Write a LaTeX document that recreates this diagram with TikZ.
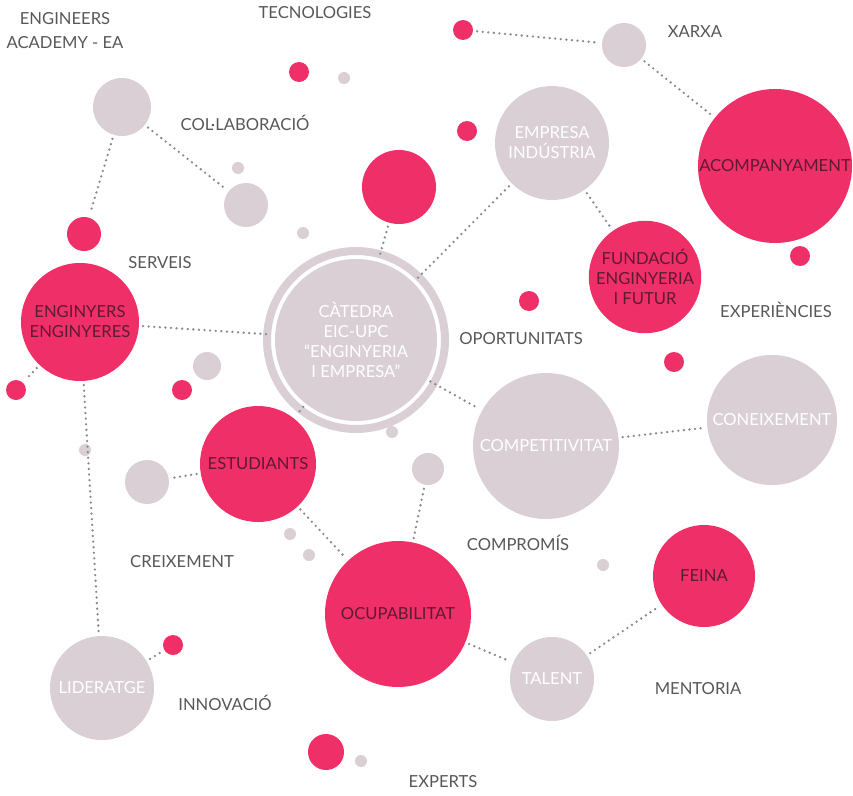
\documentclass[tikz,border=0pt]{standalone}
\usepackage{fontspec}
\setmainfont{Lato}
\definecolor{eicpink}{HTML}{EF2F67}
\definecolor{eicgrey}{HTML}{DACFD4}
\definecolor{eicwine}{HTML}{5E1A33}
\definecolor{eictext}{HTML}{575757}
\definecolor{eicdots}{HTML}{8A8A8A}

\begin{document}
\begin{tikzpicture}[x=1pt,y=-1pt,
                bubble/.style={circle,inner sep=0pt,align=center,
                               font=\fontsize{16.6}{20}\selectfont},
                hot/.style={bubble,fill=eicpink,text=eicwine},
                cool/.style={bubble,fill=eicgrey,text=white},
                pinkdot/.style={circle,inner sep=0pt,fill=eicpink,minimum size=#1},
                greydot/.style={circle,inner sep=0pt,fill=eicgrey,minimum size=#1},
                word/.style={text=eictext,align=center,
                             font=\fontsize{16.6}{24}\selectfont},
                link/.style={draw=eicdots,line width=2.6pt,line cap=round,
                             dash pattern=on 0pt off 5.6pt,
                             shorten <=4pt,shorten >=4pt}]
                \useasboundingbox (0,0) rectangle (853,795);

                % big bubbles
                \node[cool, minimum size=162pt] (catedra) at (356,340) {CÀTEDRA\\EIC-UPC\\“ENGINYERIA\\I EMPRESA”};
                \draw[eicgrey, line width=8pt] (catedra.center) circle[radius=89pt];
                \node[cool, minimum size=114pt] (empresa) at (552,143) {EMPRESA\\INDÚSTRIA};
                \node[cool, minimum size=146pt] (compet) at (546,446) {COMPETITIVITAT};
                \node[cool, minimum size=130pt] (conex) at (772,420) {CONEIXEMENT};
                \node[cool, minimum size=104pt] (lider) at (102,688) {LIDERATGE};
                \node[cool, minimum size=84pt] (talent) at (552,679) {TALENT};
                \node[hot, minimum size=118pt] (engy) at (80,322) {ENGINYERS\\ENGINYERES};
                \node[hot, minimum size=154pt] (acomp) at (775,166) {ACOMPANYAMENT};
                \node[hot, minimum size=74pt] (spark) at (399,187) {};
                \node[hot, minimum size=112pt] (fund) at (645,277) {FUNDACIÓ\\ENGINYERIA\\I FUTUR};
                \node[hot, minimum size=116pt] (estud) at (258,464) {ESTUDIANTS};
                \node[hot, minimum size=146pt] (ocup) at (398,614) {OCUPABILITAT};
                \node[hot, minimum size=102pt] (feina) at (704,576) {FEINA};

                % small bubbles
                \node[greydot=58pt] (academy) at (122,107) {};
                \node[greydot=44pt] (collab) at (246,205) {};
                \node[greydot=44pt] (xarxa) at (624,45) {};
                \node[greydot=44pt] (creix) at (147,482) {};
                \node[greydot=28pt] (serv) at (207,366) {};
                \node[greydot=32pt] (compr) at (428,469) {};
                \node[greydot=12pt] (g1) at (344,78) {};
                \node[greydot=12pt] (g2) at (238,168) {};
                \node[greydot=12pt] (g3) at (303,233) {};
                \node[greydot=12pt] (g4) at (85,450) {};
                \node[greydot=12pt] (g5) at (392,432) {};
                \node[greydot=12pt] (g6) at (290,534) {};
                \node[greydot=12pt] (g7) at (309,555) {};
                \node[greydot=12pt] (g8) at (603,565) {};
                \node[greydot=12pt] (g9) at (361,761) {};
                \node[pinkdot=20pt] (p1) at (299,72) {};
                \node[pinkdot=20pt] (xdot) at (463,30) {};
                \node[pinkdot=20pt] (p2) at (467,131) {};
                \node[pinkdot=34pt] (sdot) at (84,234) {};
                \node[pinkdot=20pt] (p3) at (529,301) {};
                \node[pinkdot=20pt] (p4) at (674,362) {};
                \node[pinkdot=20pt] (p5) at (800,256) {};
                \node[pinkdot=20pt] (ldot) at (16,390) {};
                \node[pinkdot=20pt] (p6) at (182,390) {};
                \node[pinkdot=20pt] (idot) at (173,645) {};
                \node[pinkdot=36pt] (p7) at (326,752) {};

                % loose words
                \node[word] (academia) at (65,31) {ENGINEERS\\ACADEMY - EA};
                \node[word] (tecno) at (315,13) {TECNOLOGIES};
                \node[word] (xarxatxt) at (695,32) {XARXA};
                \node[word] (collabtxt) at (245,123) {COL·LABORACIÓ};
                \node[word] (serveis) at (160,263) {SERVEIS};
                \node[word] (experien) at (776,310) {EXPERIÈNCIES};
                \node[word] (oport) at (521,339) {OPORTUNITATS};
                \node[word] (creixtxt) at (182,562) {CREIXEMENT};
                \node[word] (comprtxt) at (518,543) {COMPROMÍS};
                \node[word] (innov) at (225,703) {INNOVACIÓ};
                \node[word] (mentor) at (698,689) {MENTORIA};
                \node[word] (experts) at (443,782) {EXPERTS};

                \path[link]
                (xdot) edge (xarxa)
                (xarxa) edge (acomp)
                (academy) edge (sdot)
                    edge (collab)
                (spark) edge (catedra)
                (empresa) edge (catedra)
                    edge (fund)
                (engy) edge (catedra)
                    edge (ldot)
                    edge (lider)
                (catedra) edge (compet)
                    edge (estud)
                (estud) edge (creix)
                    edge (ocup)
                (compr) edge (ocup)
                (ocup) edge (talent)
                (talent) edge (feina)
                (compet) edge (conex)
                (lider) edge (idot)
                ;
            \end{tikzpicture}
\end{document}
